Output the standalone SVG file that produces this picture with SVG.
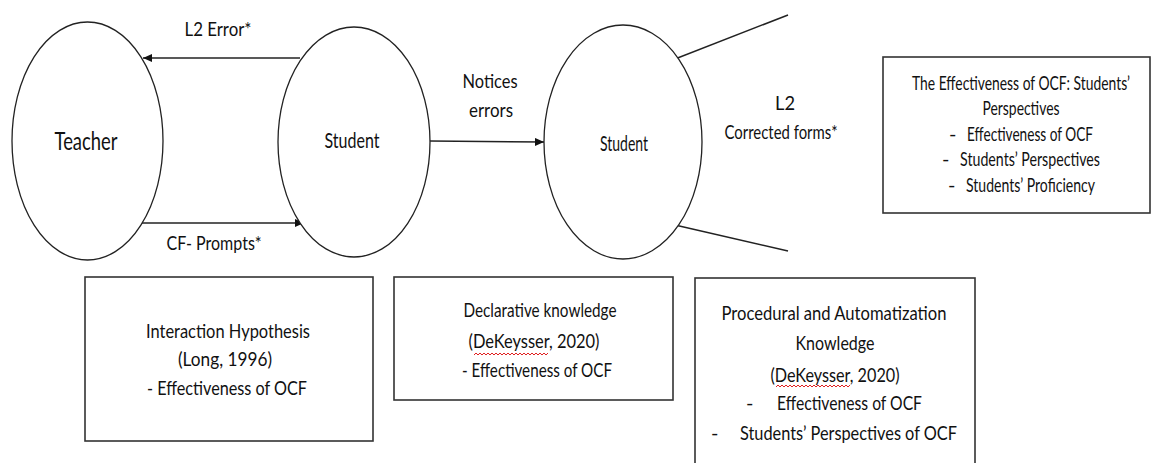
<svg xmlns="http://www.w3.org/2000/svg" width="1152" height="463" viewBox="0 0 1152 463">
<style>
.n{fill:#fff;stroke:#222;stroke-width:1.3}
.b{fill:#fff;stroke:#333;stroke-width:1.6}
.c{fill:none;stroke:#222;stroke-width:1.4}
.t{font-family:Lato,"Open Sans",sans-serif;font-size:20px;fill:#111;text-anchor:middle}
.s{text-anchor:start}
.sq{fill:none;stroke:#e02020;stroke-width:1}
</style>
<defs>
<marker id="ah" markerUnits="userSpaceOnUse" markerWidth="10" markerHeight="8" refX="9" refY="4" orient="auto">
<path d="M0,0 L9,4 L0,8 Z" fill="#111"/>
</marker>
</defs>
<rect width="1152" height="463" fill="#fff"/>
<g id="connectors">
<line class="c" x1="300" y1="58" x2="143" y2="58" marker-end="url(#ah)"/>
<line class="c" x1="142" y1="223" x2="304" y2="223" marker-end="url(#ah)"/>
<line class="c" x1="430" y1="141" x2="544" y2="142" marker-end="url(#ah)"/>
<line class="c" x1="675" y1="59" x2="788" y2="15"/>
<line class="c" x1="675" y1="225" x2="788" y2="251"/>
<text class="t" x="218" y="36" textLength="67" lengthAdjust="spacingAndGlyphs">L2 Error*</text>
<text class="t" x="214" y="250" textLength="95" lengthAdjust="spacingAndGlyphs">CF- Prompts*</text>
<text class="t" x="490" y="88" textLength="55" lengthAdjust="spacingAndGlyphs">Notices</text>
<text class="t" x="491" y="117" textLength="44" lengthAdjust="spacingAndGlyphs">errors</text>
<text class="t" x="785" y="110" textLength="20" lengthAdjust="spacingAndGlyphs">L2</text>
<text class="t" x="781" y="139" textLength="113" lengthAdjust="spacingAndGlyphs">Corrected forms*</text>
</g>
<g id="teacher">
<ellipse class="n" cx="87.5" cy="141" rx="75.5" ry="119"/>
<text class="t" x="86" y="150" style="font-size:25px" textLength="63" lengthAdjust="spacingAndGlyphs">Teacher</text>
</g>
<g id="student1">
<ellipse class="n" cx="354" cy="142" rx="76" ry="115"/>
<text class="t" x="352" y="148" style="font-size:22px" textLength="55" lengthAdjust="spacingAndGlyphs">Student</text>
</g>
<g id="student2">
<ellipse class="n" cx="623" cy="142" rx="79" ry="117"/>
<text class="t" x="624" y="151" style="font-size:21px" textLength="48" lengthAdjust="spacingAndGlyphs">Student</text>
</g>
<g id="box-ocf">
<rect class="b" x="883" y="57" width="267" height="156"/>
<text class="t" x="1021" y="90" textLength="218" lengthAdjust="spacingAndGlyphs">The Effectiveness of OCF: Students’</text>
<text class="t" x="1021" y="115" textLength="77" lengthAdjust="spacingAndGlyphs">Perspectives</text>
<text class="t s" x="949" y="141">-</text>
<text class="t s" x="967" y="141" textLength="126" lengthAdjust="spacingAndGlyphs">Effectiveness of OCF</text>
<text class="t s" x="942" y="166">-</text>
<text class="t s" x="960" y="166" textLength="140" lengthAdjust="spacingAndGlyphs">Students’ Perspectives</text>
<text class="t s" x="948" y="192">-</text>
<text class="t s" x="966" y="192" textLength="129" lengthAdjust="spacingAndGlyphs">Students’ Proficiency</text>
</g>
<g id="box-interaction">
<rect class="b" x="85" y="277" width="288" height="164"/>
<text class="t" x="228" y="338" textLength="164" lengthAdjust="spacingAndGlyphs">Interaction Hypothesis</text>
<text class="t" x="225" y="366" textLength="94" lengthAdjust="spacingAndGlyphs">(Long, 1996)</text>
<text class="t" x="227" y="395" textLength="160" lengthAdjust="spacingAndGlyphs">- Effectiveness of OCF</text>
</g>
<g id="box-declarative">
<rect class="b" x="394" y="277" width="279" height="123"/>
<text class="t" x="540" y="317" textLength="153" lengthAdjust="spacingAndGlyphs">Declarative knowledge</text>
<text class="t" x="534" y="348" textLength="131" lengthAdjust="spacingAndGlyphs">(DeKeysser, 2020)</text>
<path class="sq" d="M474,355 l2,-2 l2,2 l2,-2 l2,2 l2,-2 l2,2 l2,-2 l2,2 l2,-2 l2,2 l2,-2 l2,2 l2,-2 l2,2 l2,-2 l2,2 l2,-2 l2,2 l2,-2 l2,2 l2,-2 l2,2 l2,-2 l2,2 l2,-2 l2,2 l2,-2 l2,2 l2,-2 l2,2 l2,-2 l2,2 l2,-2 l2,2 l2,-2 l2,2 l2,-2"/>
<text class="t" x="537" y="377" textLength="150" lengthAdjust="spacingAndGlyphs">- Effectiveness of OCF</text>
</g>
<g id="box-procedural">
<rect class="b" x="695" y="278" width="280" height="200"/>
<text class="t" x="834" y="320" textLength="225" lengthAdjust="spacingAndGlyphs">Procedural and Automatization</text>
<text class="t" x="835" y="350" textLength="79" lengthAdjust="spacingAndGlyphs">Knowledge</text>
<text class="t" x="835" y="382" textLength="129" lengthAdjust="spacingAndGlyphs">(DeKeysser, 2020)</text>
<path class="sq" d="M776,387 l2,-2 l2,2 l2,-2 l2,2 l2,-2 l2,2 l2,-2 l2,2 l2,-2 l2,2 l2,-2 l2,2 l2,-2 l2,2 l2,-2 l2,2 l2,-2 l2,2 l2,-2 l2,2 l2,-2 l2,2 l2,-2 l2,2 l2,-2 l2,2 l2,-2 l2,2 l2,-2 l2,2 l2,-2 l2,2 l2,-2 l2,2 l2,-2 l2,2 l2,-2"/>
<text class="t s" x="746" y="410">-</text>
<text class="t s" x="777" y="410" textLength="145" lengthAdjust="spacingAndGlyphs">Effectiveness of OCF</text>
<text class="t s" x="711" y="440">-</text>
<text class="t s" x="740" y="440" textLength="217" lengthAdjust="spacingAndGlyphs">Students’ Perspectives of OCF</text>
</g>
</svg>
